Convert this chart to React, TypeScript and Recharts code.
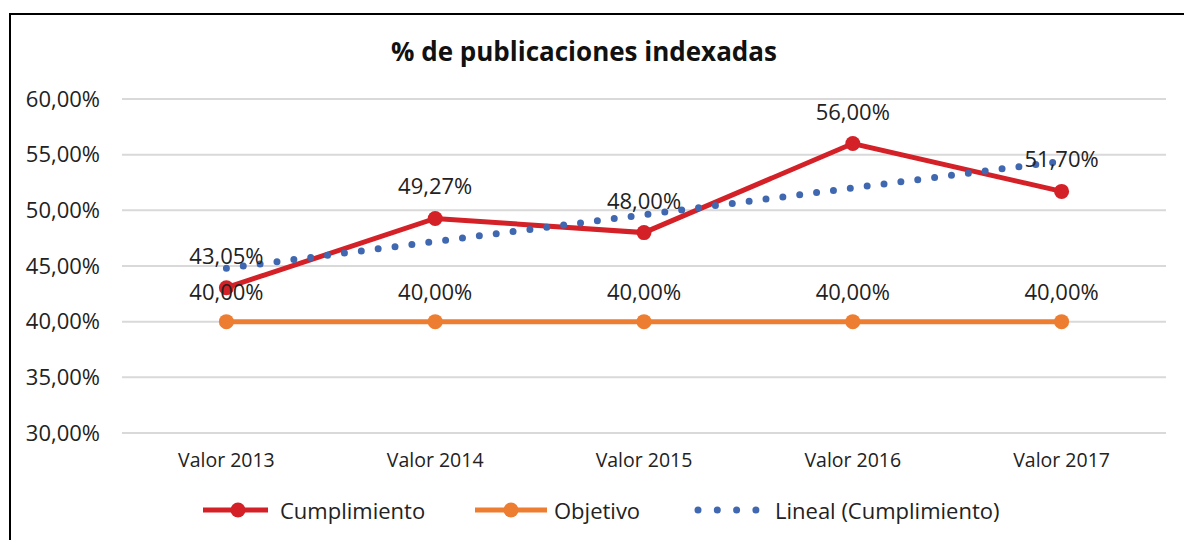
import React from 'react';
import { LineChart, Line, XAxis, YAxis, CartesianGrid, LabelList } from 'recharts';

const categories = ['Valor 2013', 'Valor 2014', 'Valor 2015', 'Valor 2016', 'Valor 2017'];
const cumplimiento = [43.05, 49.27, 48.0, 56.0, 51.7];
const objetivo = [40, 40, 40, 40, 40];
// trend values
const lineal = [44.8, 47.2, 49.6, 52.01, 54.41];
const yTicks = [30, 35, 40, 45, 50, 55, 60];

const RED = '#D42027';
const ORANGE = '#ED7D31';
const BLUE = '#4068B0';
const FONT = "'Open Sans', 'DejaVu Sans', sans-serif";

const data = categories.map((name, i) => ({
  name,
  cumplimiento: cumplimiento[i],
  objetivo: objetivo[i],
  lineal: lineal[i],
}));

const fmt = (v: number) => `${Number(v).toFixed(2).replace('.', ',')}%`;

function LegendRow() {
  const text = { fontFamily: FONT, fontSize: 22, color: '#222', lineHeight: '30px' };
  return (
    <div style={{ position: 'absolute', left: 0, top: 487, width: 1176, height: 30 }}>
      <svg width={1176} height={30} style={{ position: 'absolute', left: 0, top: 0 }}>
        <line x1={195} x2={260} y1={15} y2={15} stroke={RED} strokeWidth={5} />
        <circle cx={230} cy={15} r={7.5} fill={RED} />
        <line x1={467} x2={539} y1={15} y2={15} stroke={ORANGE} strokeWidth={5} />
        <circle cx={503} cy={15} r={7.5} fill={ORANGE} />
        {[0, 1, 2, 3].map((i) => (
          <circle key={i} cx={690 + i * 19.3} cy={15} r={3.5} fill={BLUE} />
        ))}
      </svg>
      <span style={{ ...text, position: 'absolute', left: 272, top: 0 }}>Cumplimiento</span>
      <span style={{ ...text, position: 'absolute', left: 546, top: 0 }}>Objetivo</span>
      <span style={{ ...text, position: 'absolute', left: 767, top: 0 }}>Lineal (Cumplimiento)</span>
    </div>
  );
}

export default function App() {
  // fixed so the page never gets scrollbars
  return (
    <div
      style={{
        position: 'fixed',
        left: 8,
        top: 8,
        width: 1176,
        height: 532,
        overflow: 'hidden',
        background: '#fff',
      }}
    >
      <div
        style={{
          position: 'absolute',
          left: 1,
          top: 5,
          width: 1175,
          height: 527,
          boxSizing: 'border-box',
          borderTop: '2px solid #000',
          borderLeft: '2px solid #000',
        }}
      />
      <div
        style={{
          position: 'absolute',
          left: 0,
          top: 26,
          width: 1152,
          textAlign: 'center',
          fontFamily: FONT,
          fontWeight: 700,
          fontSize: 26,
          lineHeight: '34px',
          color: '#111',
        }}
      >
        % de publicaciones indexadas
      </div>
      <div style={{ position: 'absolute', left: 0, top: 0 }}>
        <LineChart width={1176} height={532} data={data} margin={{ top: 91, right: 18, bottom: 77, left: 0 }}>
          <CartesianGrid vertical={false} stroke="#D9D9D9" strokeWidth={2} />
          <XAxis
            dataKey="name"
            axisLine={false}
            tickLine={false}
            tickSize={0}
            tickMargin={20}
            height={30}
            padding={{ left: 104.4, right: 104.4 }}
            tick={{ fontFamily: FONT, fontSize: 19.5, fill: '#222' }}
          />
          <YAxis
            domain={[30, 60]}
            ticks={yTicks}
            width={114}
            axisLine={false}
            tickLine={false}
            tickSize={0}
            tickMargin={22}
            tickFormatter={fmt}
            tick={{ fontFamily: FONT, fontSize: 22, fill: '#222' }}
          />
          <Line
            dataKey="objetivo"
            stroke={ORANGE}
            strokeWidth={5}
            dot={{ r: 7.5, fill: ORANGE, stroke: ORANGE, strokeWidth: 0 }}
            isAnimationActive={false}
          >
            <LabelList dataKey="objetivo" position="top" offset={22} formatter={fmt} style={{ fontFamily: FONT, fontSize: 22, fill: '#222' }} />
          </Line>
          <Line
            dataKey="cumplimiento"
            stroke={RED}
            strokeWidth={5}
            dot={{ r: 7.5, fill: RED, stroke: RED, strokeWidth: 0 }}
            isAnimationActive={false}
          >
            <LabelList dataKey="cumplimiento" position="top" offset={24} formatter={fmt} style={{ fontFamily: FONT, fontSize: 22, fill: '#222' }} />
          </Line>
          <Line
            dataKey="lineal"
            stroke={BLUE}
            strokeWidth={7}
            strokeDasharray="0 17"
            strokeLinecap="round"
            dot={false}
            isAnimationActive={false}
          />
        </LineChart>
      </div>
      <LegendRow />
    </div>
  );
}
